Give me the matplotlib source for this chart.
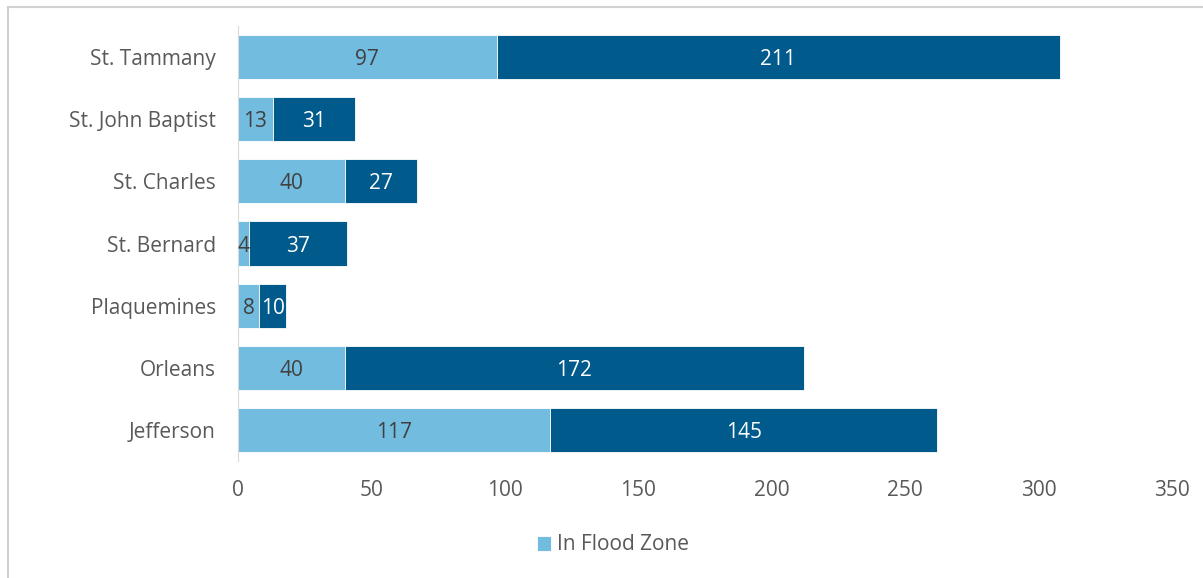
import matplotlib
matplotlib.use("Agg")
import matplotlib.pyplot as plt
from matplotlib.patches import Rectangle

categories = ["Jefferson", "Orleans", "Plaquemines", "St. Bernard", "St. Charles", "St. John Baptist", "St. Tammany"]
in_flood = [117, 40, 8, 4, 40, 13, 97]
other = [145, 172, 10, 37, 27, 31, 211]
xticks = [0, 50, 100, 150, 200, 250, 300, 350]

light = "#72BCE0"
dark = "#005A8C"
txt = "#595959"
FS = 15

plt.rcParams['font.family'] = ['Open Sans', 'DejaVu Sans']

fig = plt.figure(figsize=(12.03, 5.78), dpi=100)
W, H = 1203, 578
# outer frame
fig.patches.append(Rectangle((8 / W, -0.1), 1.2, (578 - 7) / H + 0.1, transform=fig.transFigure,
                             fill=False, edgecolor="#D0D0D0", linewidth=1.5))

ax = fig.add_axes([238 / W, (H - 461) / H, (1172 - 238) / W, (461 - 26) / H])
y = list(range(len(categories)))
ax.barh(y, in_flood, height=0.71, color=light, edgecolor="white", linewidth=0.6, label="In Flood Zone")
ax.barh(y, other, left=in_flood, height=0.71, color=dark, edgecolor="white", linewidth=0.6)

for i in y:
    ax.text(in_flood[i] / 2, i, str(in_flood[i]), ha="center", va="center_baseline", color="#404040", fontsize=FS)
    ax.text(in_flood[i] + other[i] / 2, i, str(other[i]), ha="center", va="center_baseline", color="white", fontsize=FS)

ax.set_xlim(0, 350)
ax.set_ylim(-0.5, 6.5)
ax.set_xticks(xticks)
ax.set_xticklabels([str(t) for t in xticks], color=txt, fontsize=FS)
ax.set_yticks(y)
ax.set_yticklabels(categories, color=txt, fontsize=FS)
ax.tick_params(axis="both", length=0)
ax.tick_params(axis="y", pad=16)
ax.tick_params(axis="x", pad=14)
for s in ["top", "right", "bottom"]:
    ax.spines[s].set_visible(False)
ax.spines["left"].set_color("#D9D9D9")

leg = fig.legend(loc="center", bbox_to_anchor=(613 / W, (H - 545) / H), frameon=False,
                 fontsize=FS, handlelength=0.7, handleheight=0.7, handletextpad=0.3)
for t in leg.get_texts():
    t.set_color(txt)

fig.savefig("out.png", dpi=100)
